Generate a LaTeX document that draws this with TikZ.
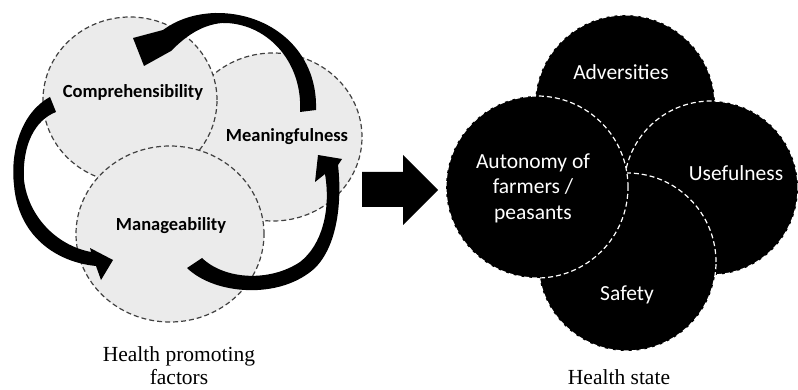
\documentclass[tikz,border=0pt]{standalone}
\usepackage{fontspec}
\setmainfont{Liberation Serif}
\newfontfamily\carlito{Carlito}
\usetikzlibrary{shapes.geometric}

\begin{document}
\begin{tikzpicture}[x=1pt,y=-1pt,
  factor/.style={ellipse,draw=black!75,fill=black!8,line width=1.2pt,dash pattern=on 5pt off 3pt,inner sep=0pt},
  ball/.style={circle,draw=white,fill=black,line width=1.2pt,dash pattern=on 5pt off 3pt,inner sep=0pt},
  factorname/.style={font=\carlito\bfseries\fontsize{18.5}{20}\selectfont},
  statename/.style={text=white,align=center,font=\carlito\fontsize{21.5}{25.5}\selectfont},
  caption/.style={align=center,font=\fontsize{21.5}{23}\selectfont}]
  \useasboundingbox (0,0) rectangle (798,390);
  % Health promoting factors
  \node[factor,minimum width=178pt,minimum height=168pt] (mean) at (273,137) {};
  \node[factor,minimum width=174pt,minimum height=166pt] (comp) at (130,100) {};
  \node[factor,minimum width=188pt,minimum height=176pt] (manag) at (170,234) {};
  \node[factorname] (compname) at (133,92) {Comprehensibility};
  \node[factorname] (meanname) at (287,137) {Meaningfulness};
  \node[factorname] (managname) at (171,226) {Manageability};
  % Curved arrows between the factors
  \fill (316,110) .. controls (318,50) and (270,12) .. (215,13)
    .. controls (190,14) and (174,22) .. (163,30)
    -- (133,38) -- (144,66) -- (171,51)
    .. controls (184,38) and (200,25) .. (222,23)
    .. controls (265,22) and (303,60) .. (300,112) -- cycle;
  \fill (50,97) .. controls (22,112) and (10,150) .. (14,185)
    .. controls (18,235) and (55,262) .. (96,266)
    -- (101,280) -- (113,260) -- (90,248) -- (91,252)
    .. controls (55,245) and (28,215) .. (24,180)
    .. controls (22,145) and (35,120) .. (56,112) -- cycle;
  \fill (187,268) .. controls (215,295) and (280,300) .. (315,268)
    .. controls (338,245) and (342,200) .. (338,165)
    -- (342,159) -- (318,155) -- (315,182) -- (325,174)
    .. controls (331,210) and (322,245) .. (300,262)
    .. controls (270,282) and (225,280) .. (202,258) -- cycle;
  % Block arrow
  \fill (362,172) -- (403,172) -- (403,155) -- (438,190) -- (403,225) -- (403,207) -- (362,207) -- cycle;
  % Health state
  \node[ball,minimum size=180pt] (adv) at (625,105) {};
  \node[ball,minimum size=174pt] (use) at (711,188) {};
  \node[ball,minimum size=178pt] (safe) at (627,262) {};
  \node[ball,minimum size=182pt] (auto) at (537,187) {};
  \node[statename] (advname) at (621,72) {Adversities};
  \node[statename] (usename) at (736,173) {Usefulness};
  \node[statename] (safename) at (627,295) {Safety};
  \node[statename] (autoname) at (533,188) {Autonomy of\\farmers /\\peasants};
  % Captions
  \node[caption] (factorcap) at (179,366) {Health promoting\\factors};
  \node[caption] (statecap) at (619,377) {Health state};
\end{tikzpicture}
\end{document}
